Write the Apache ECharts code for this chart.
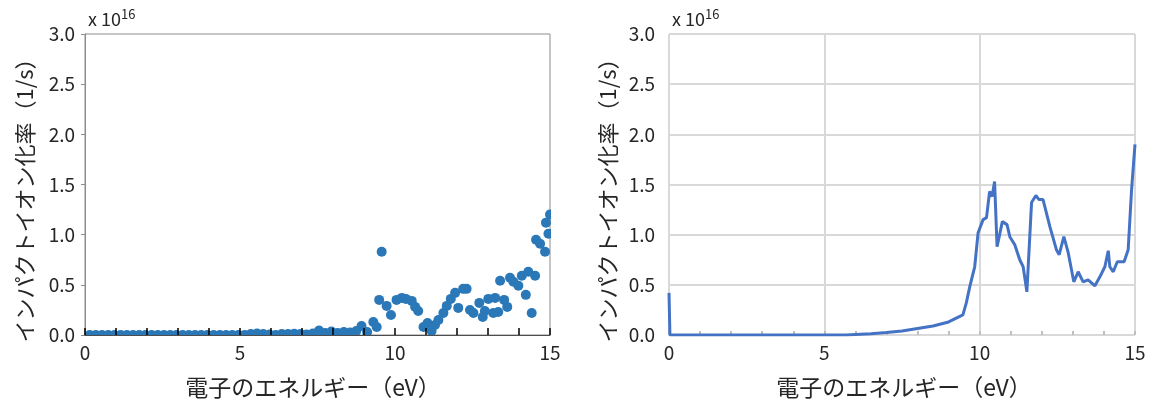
<!DOCTYPE html>
<html>
<head>
<meta charset="utf-8">
<script src="https://cdn.jsdelivr.net/npm/echarts@6/dist/echarts.min.js"></script>
<style>
  html, body { margin: 0; padding: 0; background: #fff; }
  #chart { width: 1162px; height: 403px; }
</style>
</head>
<body>
<div id="chart"></div>
<script>
// left panel: scatter (energy in eV, rate in units of 1e16 1/s)
const scatterEnergy = [
  0.15, 0.35, 0.55, 0.75, 0.95, 1.15, 1.35, 1.55, 1.75, 1.95,
  2.15, 2.35, 2.55, 2.75, 2.95, 3.15, 3.35, 3.55, 3.75, 3.95,
  4.15, 4.35, 4.55, 4.75, 4.95, 5.15, 5.35, 5.55, 5.75, 5.95,
  6.15, 6.35, 6.55, 6.75, 6.95, 7.15, 7.35, 7.55, 7.75, 7.95,
  8.15, 8.35, 8.55, 8.75, 8.92, 9.1, 9.3, 9.41, 9.49, 9.57,
  9.73, 9.87, 10.05, 10.22, 10.35, 10.54, 10.65, 10.75, 10.92, 11.05,
  11.18, 11.29, 11.4, 11.56, 11.67, 11.8, 11.94, 12.04, 12.2, 12.31,
  12.42, 12.53, 12.72, 12.83, 12.9, 13.01, 13.17, 13.23, 13.33, 13.39,
  13.52, 13.62, 13.71, 13.82, 13.98, 14.09, 14.22, 14.3, 14.41, 14.52,
  14.55, 14.68, 14.84, 14.87, 14.95, 15.0
];
const scatterRate = [
  0, 0, 0, 0, 0, 0, 0, 0, 0, 0,
  0, 0, 0, 0, 0, 0, 0, 0, 0, 0,
  0, 0, 0, 0, 0, 0, 0.01, 0.015, 0.01, 0.005,
  0, 0.01, 0.01, 0.012, 0.01, 0.005, 0.015, 0.045, 0.02, 0.035,
  0.02, 0.03, 0.025, 0.04, 0.09, 0.03, 0.13, 0.08, 0.35, 0.83,
  0.29, 0.2, 0.35, 0.37, 0.36, 0.34, 0.28, 0.24, 0.08, 0.12,
  0.04, 0.1, 0.15, 0.22, 0.29, 0.36, 0.42, 0.27, 0.46, 0.46,
  0.25, 0.22, 0.32, 0.18, 0.24, 0.36, 0.22, 0.37, 0.23, 0.54,
  0.35, 0.28, 0.57, 0.53, 0.49, 0.59, 0.4, 0.63, 0.22, 0.59,
  0.95, 0.91, 0.83, 1.12, 1.01, 1.2
];

// right panel: line
const lineEnergy = [
  0, 0.03, 5.7, 6.0, 6.5, 7.0, 7.5, 8.0, 8.5, 9.0,
  9.46, 9.57, 9.68, 9.84, 9.95, 10.11, 10.22, 10.32, 10.4, 10.48,
  10.56, 10.62, 10.73, 10.88, 10.97, 11.13, 11.29, 11.4, 11.52, 11.67,
  11.81, 11.91, 12.04, 12.26, 12.47, 12.56, 12.71, 12.85, 13.03, 13.17,
  13.33, 13.49, 13.71, 13.87, 14.03, 14.14, 14.19, 14.3, 14.43, 14.65,
  14.78, 14.89, 15.0
];
const lineRate = [
  0.42, 0, 0, 0.005, 0.012, 0.025, 0.04, 0.065, 0.09, 0.13,
  0.2, 0.32, 0.48, 0.68, 1.02, 1.15, 1.17, 1.43, 1.38, 1.53,
  0.88, 0.87, 1.13, 1.1, 0.98, 0.9, 0.75, 0.68, 0.43, 1.32,
  1.39, 1.35, 1.35, 1.08, 0.85, 0.8, 0.98, 0.82, 0.53, 0.63,
  0.53, 0.55, 0.49, 0.58, 0.68, 0.84, 0.68, 0.63, 0.73, 0.73,
  0.85, 1.45, 1.9
];

const yTicks = ['0.0', '0.5', '1.0', '1.5', '2.0', '2.5', '3.0'];
const xTitle = '電子のエネルギー（eV）';
const yTitle = 'インパクトイオン化率（1/s）';

const font = "'Noto Sans CJK JP', 'Noto Sans', sans-serif";
const zip = (xs, ys) => xs.map((x, i) => [x, ys[i]]);

const chart = echarts.init(document.getElementById('chart'));

const tickLabel = { fontSize: 19, color: '#262626', fontFamily: font };
const expLabel = {
  text: 'x 10{s|16}', fontSize: 18, fontFamily: font, fill: '#262626',
  rich: { s: { fontSize: 13, fontFamily: font, fill: '#262626', verticalAlign: 'top', padding: [0, 0, 10, 0] } }
};

chart.setOption({
  animation: false,
  grid: [
    { left: 85, top: 34, width: 465, height: 301, show: true, borderColor: '#8c8c8c', borderWidth: 1 },
    { left: 669, top: 34, width: 466, height: 301 }
  ],
  xAxis: [
    {
      gridIndex: 0, type: 'value', min: 0, max: 15, interval: 5, z: 10,
      axisLine: { lineStyle: { color: '#4d4d4d' } },
      axisTick: { inside: true, length: 7, lineStyle: { color: '#000', width: 1.5 } },
      minorTick: { show: true, splitNumber: 5, length: 7, lineStyle: { color: '#000', width: 1.5 } },
      axisLabel: Object.assign({ margin: 8 }, tickLabel),
      splitLine: { show: false }
    },
    {
      gridIndex: 1, type: 'value', min: 0, max: 15, interval: 5,
      axisLine: { show: false },
      axisTick: { inside: true, length: 4, lineStyle: { color: '#bfbfbf', width: 2 } },
      minorTick: { show: true, splitNumber: 5, length: 4, lineStyle: { color: '#bfbfbf', width: 2 } },
      axisLabel: Object.assign({ margin: 8 }, tickLabel),
      splitLine: { show: true, lineStyle: { color: '#d9d9d9', width: 2 } }
    }
  ],
  yAxis: [
    {
      gridIndex: 0, type: 'value', min: 0, max: 3, interval: 0.5,
      axisLine: { show: true, lineStyle: { color: '#8c8c8c' } },
      axisTick: { show: true, length: 4, lineStyle: { color: '#8c8c8c' } },
      axisLabel: Object.assign({ margin: 10, formatter: v => yTicks[Math.round(v * 2)] }, tickLabel),
      splitLine: { show: false }
    },
    {
      gridIndex: 1, type: 'value', min: 0, max: 3, interval: 0.5,
      axisLine: { show: false },
      axisTick: { show: false },
      axisLabel: Object.assign({ margin: 14, formatter: v => yTicks[Math.round(v * 2)] }, tickLabel),
      splitLine: { show: true, lineStyle: { color: '#d9d9d9', width: 2 } }
    }
  ],
  series: [
    {
      type: 'scatter', xAxisIndex: 0, yAxisIndex: 0,
      data: zip(scatterEnergy, scatterRate),
      symbolSize: 10,
      itemStyle: { color: '#2a78b8', opacity: 1 }
    },
    {
      type: 'line', xAxisIndex: 1, yAxisIndex: 1,
      data: zip(lineEnergy, lineRate),
      showSymbol: false,
      lineStyle: { color: '#4472c4', width: 3 }
    }
  ],
  graphic: [
    // hide the parts of the markers that spill outside the left plot area
    { type: 'rect', z: 100, shape: { x: 78, y: 336, width: 484, height: 6 }, style: { fill: '#fff' } },
    { type: 'rect', z: 100, shape: { x: 551, y: 30, width: 10, height: 306 }, style: { fill: '#fff' } },
    { type: 'text', z: 100, x: 88, y: 8, style: expLabel },
    { type: 'text', z: 100, x: 672, y: 8, style: expLabel },
    { type: 'text', z: 100, x: 313, y: 387, style: { text: xTitle, fontSize: 23, fontFamily: font, fill: '#262626', align: 'center', verticalAlign: 'middle' } },
    { type: 'text', z: 100, x: 904, y: 387, style: { text: xTitle, fontSize: 23, fontFamily: font, fill: '#262626', align: 'center', verticalAlign: 'middle' } },
    { type: 'text', z: 100, x: 25, y: 195, rotation: Math.PI / 2, style: { text: yTitle, fontSize: 22, fontFamily: font, fill: '#262626', align: 'center', verticalAlign: 'middle' } },
    { type: 'text', z: 100, x: 608, y: 195, rotation: Math.PI / 2, style: { text: yTitle, fontSize: 22, fontFamily: font, fill: '#262626', align: 'center', verticalAlign: 'middle' } }
  ]
});
</script>
</body>
</html>
